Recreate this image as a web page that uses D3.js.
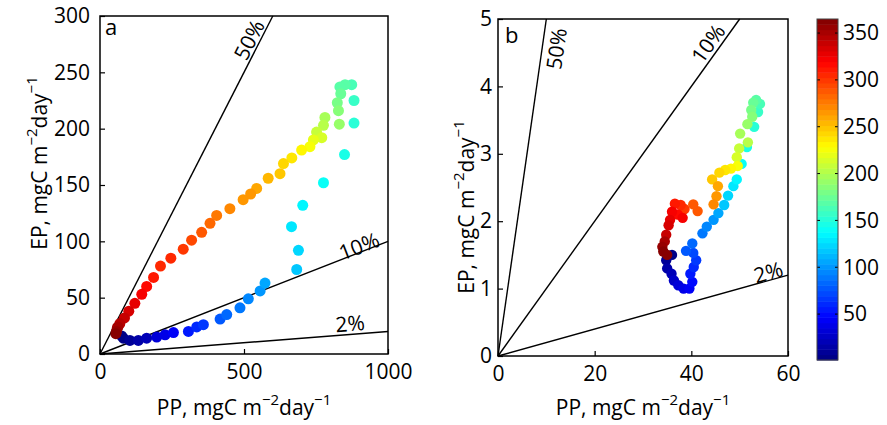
<!DOCTYPE html>
<html>
<head>
<meta charset="utf-8">
<script src="https://cdn.jsdelivr.net/npm/d3@7"></script>
<style>
  html, body { margin: 0; padding: 0; background: #fff; }
  svg { display: block; font-family: "Open Sans", sans-serif; }
</style>
</head>
<body>
<svg id="chart" width="887" height="425"></svg>
<script>
// ── Data: export production (EP) vs primary production (PP), coloured by day of year ──

// Panel a
const dayA = [1, 5, 10, 16, 22, 30, 38, 46, 54, 62, 68, 76, 82, 90, 96, 102, 108,
  117, 122, 128, 133, 138, 144, 150, 156,
  161, 166, 171, 176, 181, 186, 192, 197, 202, 208, 213, 219, 225, 231, 237,
  243, 248, 253, 258, 263, 268, 273, 278, 283, 288, 293, 298, 303, 308, 313, 318, 323, 328, 333, 338, 343, 348,
  353, 358, 363];
const ppA = [75, 81, 104, 133, 162, 197, 226, 255, 307, 336, 359, 417, 440, 486, 515, 556, 573,
  683, 689, 665, 704, 776, 849, 882, 882,
  874, 851, 833, 836, 824, 828, 831, 781, 776, 752, 770, 741, 729, 700, 666,
  637, 625, 584, 544, 523, 497, 451, 405, 382, 353, 318, 289, 246, 210, 186, 162, 145, 121, 100, 85, 69, 60,
  62, 57, 55];
const epA = [16, 14, 12, 12, 14, 15, 17, 19, 20, 24, 26, 31, 35, 41, 49, 56, 63,
  75, 92, 113, 132, 152, 177, 205, 225,
  239, 239, 237, 231, 223, 216, 204, 210, 203, 197, 192, 190, 184, 181, 174,
  169, 160, 156, 147, 142, 137, 129, 123, 116, 108, 101, 93, 85, 78, 68, 60, 53, 45, 38, 32, 27, 23,
  24, 20, 18];

// Panel b
const dayB = [1, 7, 13, 19, 25, 31, 37, 43, 49, 55, 61, 67, 73, 79, 85, 91, 97,
  103, 109, 115, 121, 127, 133, 139, 145, 151, 157, 163, 169, 175,
  181, 187, 193, 199, 205, 211, 217, 223, 229, 235, 241, 250, 258, 265, 272,
  286, 291, 300, 306, 311, 316, 320, 325, 330, 336, 342, 348, 354, 360, 365];
const ppB = [36.0, 34.8, 35.0, 35.9, 36.4, 37.3, 38.4, 39.6, 40.2, 39.8, 40.5, 41.0, 40.4, 38.9, 40.2, 42.3, 43.2,
  44.6, 45.6, 46.8, 47.6, 48.7, 49.4, 50.4, 51.5, 53.0, 53.8, 54.2, 53.4, 52.8,
  52.4, 52.6, 51.6, 50.1, 51.7, 49.9, 49.4, 49.6, 48.2, 47.0, 45.8, 44.3, 45.5, 45.2, 44.6,
  41.3, 40.4, 38.6, 37.8, 36.6, 37.2, 38.2, 36.0, 35.6, 35.3, 34.8, 34.5, 34.0, 34.2, 35.0];
const epB = [1.50, 1.42, 1.30, 1.22, 1.12, 1.05, 1.00, 1.00, 1.10, 1.22, 1.32, 1.42, 1.53, 1.56, 1.67, 1.82, 1.92,
  2.02, 2.12, 2.24, 2.38, 2.52, 2.62, 2.85, 3.10, 3.40, 3.62, 3.74, 3.80, 3.76,
  3.65, 3.55, 3.44, 3.30, 3.17, 3.08, 2.95, 2.82, 2.78, 2.76, 2.72, 2.62, 2.52, 2.37, 2.25,
  2.15, 2.25, 2.18, 2.24, 2.26, 2.10, 2.05, 2.14, 2.02, 1.94, 1.80, 1.70, 1.62, 1.55, 1.50];

// e-ratio guide lines
const ratios = [0.5, 0.1, 0.02];
const ratioLabels = ['50%', '10%', '2%'];

// ticks
const xTicksA = [0, 500, 1000];
const yTicksA = [0, 50, 100, 150, 200, 250, 300];
const xTicksB = [0, 20, 40, 60];
const yTicksB = [0, 1, 2, 3, 4, 5];
const cbTicks = [50, 100, 150, 200, 250, 300, 350];
const dayRange = [1, 365];

// ── Colour ──

// MATLAB-style jet, 64 steps
const N_COLORS = 64;
function jet(t) {
  const c = v => Math.max(0, Math.min(1, v));
  const r = c(1.5 - Math.abs(4 * t - 3));
  const g = c(1.5 - Math.abs(4 * t - 2));
  const b = c(1.5 - Math.abs(4 * t - 1));
  return d3.rgb(r * 255, g * 255, b * 255).formatHex();
}
function dayColor(day) {
  const t = (day - dayRange[0]) / (dayRange[1] - dayRange[0]);
  const idx = Math.min(N_COLORS - 1, Math.floor(t * N_COLORS));
  return jet((idx + 0.5) / N_COLORS);
}

const svg = d3.select('#chart');
const FONT = 21;

// "PP, mgC m^-2 day^-1" with raised exponents
function unitLabel(sel, prefix) {
  sel.append('tspan').text(prefix + ', mgC m');
  sel.append('tspan').attr('dy', -10).attr('font-size', 15).text('\u22122');
  sel.append('tspan').attr('dy', 10).text('day');
  sel.append('tspan').attr('dy', -10).attr('font-size', 15).text('\u22121');
}

// ── Panels ──

const panels = [
  {
    name: 'a', day: dayA, pp: ppA, ep: epA,
    left: 100, right: 388, top: 16, bottom: 354,
    xMax: 1000, yMax: 300, xTicks: xTicksA, yTicks: yTicksA,
    r: 5.5, yPad: 10,
    letter: [105, 35],
    ylab: [47, 163],
    ratioPos: [[517, 279], [899, 96], [868, 27.5]],
  },
  {
    name: 'b', day: dayB, pp: ppB, ep: epB,
    left: 498, right: 788, top: 19, bottom: 356,
    xMax: 60, yMax: 5, xTicks: xTicksB, yTicks: yTicksB,
    r: 5.2, yPad: 6,
    letter: [505, 43],
    ylab: [474, 207],
    ratioPos: [[12.0, 4.56], [43.4, 4.64], [55.9, 1.25]],
  },
];

function drawPanel(p) {
  const x = d3.scaleLinear().domain([0, p.xMax]).range([p.left, p.right]);
  const y = d3.scaleLinear().domain([0, p.yMax]).range([p.bottom, p.top]);
  const g = svg.append('g');

  // guide lines from the origin to the box edge
  ratios.forEach((f, i) => {
    const xEnd = Math.min(p.xMax, p.yMax / f);
    g.append('line')
      .attr('x1', x(0)).attr('y1', y(0))
      .attr('x2', x(xEnd)).attr('y2', y(f * xEnd))
      .attr('stroke', '#000').attr('stroke-width', 1.4);

    const ang = Math.atan2(y(f) - y(0), x(1) - x(0)) * 180 / Math.PI;
    const [lx, ly] = p.ratioPos[i];
    g.append('text')
      .attr('transform', `translate(${x(lx)},${y(ly)}) rotate(${ang})`)
      .attr('text-anchor', 'middle')
      .attr('dominant-baseline', 'central')
      .attr('font-size', FONT)
      .text(ratioLabels[i]);
  });

  // points, later days on top
  const pts = p.day.map((d, i) => ({ day: d, pp: p.pp[i], ep: p.ep[i] }));
  g.selectAll('circle.pt')
    .data(pts)
    .join('circle')
    .attr('class', 'pt')
    .attr('cx', d => x(d.pp))
    .attr('cy', d => y(d.ep))
    .attr('r', p.r)
    .attr('fill', d => dayColor(d.day));

  // axes (inward ticks)
  const xAxis = g.append('g')
    .attr('transform', `translate(0,${p.bottom})`)
    .call(d3.axisBottom(x).tickValues(p.xTicks).tickSize(-5).tickPadding(10).tickFormat(d3.format('d')));
  const yAxis = g.append('g')
    .attr('transform', `translate(${p.left},0)`)
    .call(d3.axisLeft(y).tickValues(p.yTicks).tickSize(-5).tickPadding(p.yPad).tickFormat(d3.format('d')));
  [xAxis, yAxis].forEach(ax => {
    ax.select('.domain').remove();
    ax.selectAll('line').attr('stroke', '#000').attr('stroke-width', 1.2);
    ax.selectAll('text').attr('font-size', FONT).attr('font-family', '"Open Sans", sans-serif').attr('fill', '#000');
  });

  // frame
  g.append('rect')
    .attr('x', p.left).attr('y', p.top)
    .attr('width', p.right - p.left).attr('height', p.bottom - p.top)
    .attr('fill', 'none').attr('stroke', '#000').attr('stroke-width', 1.5);

  // panel letter
  g.append('text')
    .attr('x', p.letter[0]).attr('y', p.letter[1])
    .attr('font-size', 22)
    .text(p.name);

  // axis titles
  const xt = g.append('text')
    .attr('x', (p.left + p.right) / 2).attr('y', 415)
    .attr('text-anchor', 'middle')
    .attr('font-size', FONT);
  unitLabel(xt, 'PP');

  const yt = g.append('text')
    .attr('transform', `translate(${p.ylab[0]},${p.ylab[1]}) rotate(-90)`)
    .attr('text-anchor', 'middle')
    .attr('font-size', FONT);
  unitLabel(yt, 'EP');
}

panels.forEach(drawPanel);

// ── Colorbar ──

function drawColorbar() {
  const cb = { left: 817, right: 838, top: 19, bottom: 360 };
  const c = d3.scaleLinear().domain(dayRange).range([cb.bottom, cb.top]);
  const g = svg.append('g');
  const step = (dayRange[1] - dayRange[0]) / N_COLORS;
  const bands = d3.range(N_COLORS);

  g.selectAll('rect.band')
    .data(bands)
    .join('rect')
    .attr('class', 'band')
    .attr('x', cb.left)
    .attr('width', cb.right - cb.left)
    .attr('y', i => c(dayRange[0] + (i + 1) * step))
    .attr('height', i => c(dayRange[0] + i * step) - c(dayRange[0] + (i + 1) * step) + 0.5)
    .attr('fill', i => jet((i + 0.5) / N_COLORS));

  // ticks on both edges, pointing in
  cbTicks.forEach(v => {
    g.append('line').attr('x1', cb.left).attr('x2', cb.left + 3)
      .attr('y1', c(v)).attr('y2', c(v)).attr('stroke', '#000');
    g.append('line').attr('x1', cb.right - 3).attr('x2', cb.right)
      .attr('y1', c(v)).attr('y2', c(v)).attr('stroke', '#000');
    g.append('text')
      .attr('x', cb.right + 5).attr('y', c(v))
      .attr('dy', '0.35em')
      .attr('font-size', FONT)
      .text(v);
  });

  g.append('rect')
    .attr('x', cb.left).attr('y', cb.top)
    .attr('width', cb.right - cb.left).attr('height', cb.bottom - cb.top)
    .attr('fill', 'none').attr('stroke', '#444').attr('stroke-width', 1);
}

drawColorbar();
</script>
</body>
</html>
